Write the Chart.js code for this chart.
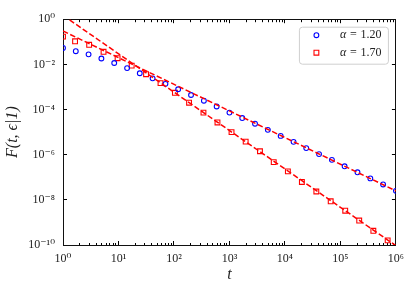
<!DOCTYPE html>
<html>
<head>
<meta charset="utf-8">
<script src="https://cdn.jsdelivr.net/npm/chart.js@4.4.1/dist/chart.umd.min.js"></script>
<style>
    html, body { margin: 0; padding: 0; background: #fff; }
</style>
</head>
<body>
<canvas id="survivalChart" width="415" height="288"></canvas>
<script>
//data
//alpha = 1.20 (blue circles)
var tBlue = [1, 1.70, 2.89, 4.92, 8.38, 14.3, 24.2, 41.2, 70.2, 119, 203, 346, 588, 1000,
    1700, 2890, 4920, 8380, 14300, 24200, 41200, 70200, 119000, 203000, 346000, 588000, 1000000];
var fBlue = [0.0532, 0.0382, 0.0277, 0.0182, 0.0115, 0.00682, 0.00403, 0.00240, 0.00137, 7.9e-4,
    4.4e-4, 2.46e-4, 1.37e-4, 7.3e-5, 4.2e-5, 2.36e-5, 1.26e-5, 6.8e-6, 3.7e-6, 1.96e-6,
    1.06e-6, 5.9e-7, 3.06e-7, 1.66e-7, 8.9e-8, 4.8e-8, 2.5e-8];

//alpha = 1.70 (red squares)
var tRed = [1, 1.65, 2.96, 5.38, 9.64, 17.3, 31.4, 57.2, 104, 187, 340, 608, 1090, 1960,
    3550, 6280, 11300, 20200, 36800, 66800, 122000, 218000, 392000, 710000];
var fRed = [0.169, 0.105, 0.0735, 0.0360, 0.0187, 0.00881, 0.00366, 0.00147, 5.5e-4, 2.0e-4,
    7.3e-5, 2.67e-5, 1.0e-5, 3.8e-6, 1.42e-6, 4.7e-7, 1.82e-7, 6.2e-8, 2.34e-8, 8.6e-9,
    3.3e-9, 1.21e-9, 4.25e-10, 1.6e-10];

//dashed power law guides (end points)
var tFit = [1, 1000000];
var fFitBlue = [0.30, 2.5e-8];
var fFitRed = [1.48, 9.3e-11];

var seriesLabels = ["α = 1.20", "α = 1.70"];

//ticks
var xMajor = [1, 10, 100, 1000, 10000, 100000, 1000000];
var xLabels = ["10⁰", "10¹", "10²", "10³", "10⁴", "10⁵", "10⁶"];
var yMajor = [1e-10, 1e-8, 1e-6, 1e-4, 1e-2, 1];
var yLabels = ["10⁻¹⁰", "10⁻⁸", "10⁻⁶", "10⁻⁴", "10⁻²", "10⁰"];

var serif = "'Liberation Serif', 'DejaVu Serif', serif";

function toPoints(xs, ys) {
    return xs.map((x, i) => ({x: x, y: ys[i]}));
}

//major ticks at decades, minor at 2..9
function buildXTicks(scale) {
    var ticks = [];
    xMajor.forEach((v, i) => {
        ticks.push({value: v, major: true});
        if (i < xMajor.length - 1) {
            for (var m = 2; m <= 9; m++) ticks.push({value: v * m, major: false});
        }
    });
    scale.ticks = ticks;
}

function buildYTicks(scale) {
    scale.ticks = yMajor.map(v => ({value: v, major: true}));
}

function xLabel(value) {
    var i = xMajor.findIndex(v => Math.abs(v - value) < v * 1e-6);
    return i >= 0 ? xLabels[i] : "";
}

function yLabel(value) {
    var i = yMajor.findIndex(v => Math.abs(v - value) < v * 1e-6);
    return i >= 0 ? yLabels[i] : "";
}

//inward ticks: full length for majors, short dash for minors
var bottomDash = ctx => (ctx.tick && ctx.tick.major) ? [] : [3, 10];
var topDash = ctx => (ctx.tick && ctx.tick.major) ? [] : [0, 1, 3, 10];

var tickGrid = function(dash) {
    return {
        drawOnChartArea: false,
        drawTicks: true,
        tickLength: -4,
        tickWidth: 1,
        tickColor: "#000",
        tickBorderDash: dash
    };
};

//legend box inside the plot, top right
var legendBox = {
    id: "legendBox",
    afterDraw(chart) {
        var ctx = chart.ctx;
        var area = chart.chartArea;
        var w = 89, h = 37;
        var x0 = area.right - 8 - w;
        var y0 = area.top + 7.5;

        ctx.save();
        ctx.beginPath();
        ctx.roundRect(x0 + 0.5, y0 + 0.5, w, h, 3);
        ctx.fillStyle = "rgba(255,255,255,0.85)";
        ctx.fill();
        ctx.strokeStyle = "#cfcfcf";
        ctx.lineWidth = 1;
        ctx.stroke();

        var rows = [y0 + 8.5, y0 + 26];
        [0, 1].forEach(i => {
            var ds = chart.data.datasets[i];
            var mx = x0 + 17.5;
            var my = rows[i];
            ctx.strokeStyle = ds.borderColor;
            ctx.lineWidth = 1.1;
            ctx.beginPath();
            if (ds.pointStyle === "circle") {
                ctx.arc(mx, my, 2.4, 0, Math.PI * 2);
            } else {
                ctx.rect(mx - 2.4, my - 2.4, 4.8, 4.8);
            }
            ctx.stroke();

            //label: italic alpha, the rest upright
            var label = ds.label;
            ctx.fillStyle = "#222";
            ctx.textBaseline = "middle";
            ctx.font = "italic 12px " + serif;
            ctx.fillText(label.charAt(0), x0 + 41, my);
            ctx.font = "12px " + serif;
            ctx.fillText("=", x0 + 51, my);
            ctx.fillText(label.split("= ")[1], x0 + 61.5, my);
        });
        ctx.restore();
    }
};

new Chart("survivalChart", {
    type: "scatter",
    data: {
        datasets: [{
            label: seriesLabels[0],
            data: toPoints(tBlue, fBlue),
            pointStyle: "circle",
            pointRadius: 2.4,
            pointBorderWidth: 1.1,
            borderColor: "#0000ff",
            backgroundColor: "rgba(0,0,0,0)",
            order: 2
        }, {
            label: seriesLabels[1],
            data: toPoints(tRed, fRed),
            pointStyle: "rect",
            pointRadius: 3.4,
            pointBorderWidth: 1.1,
            borderColor: "#ff0000",
            backgroundColor: "rgba(0,0,0,0)",
            order: 2
        }, {
            label: "fit 1.20",
            data: toPoints(tFit, fFitBlue),
            showLine: true,
            pointRadius: 0,
            borderColor: "#ff0000",
            borderWidth: 1.5,
            borderDash: [5.5, 2.5],
            order: 1
        }, {
            label: "fit 1.70",
            data: toPoints(tFit, fFitRed),
            showLine: true,
            pointRadius: 0,
            borderColor: "#ff0000",
            borderWidth: 1.5,
            borderDash: [5.5, 2.5],
            order: 1
        }]
    },
    options: {
        responsive: false,
        devicePixelRatio: 1,
        animation: false,
        events: [],
        layout: {
            padding: {left: 0, top: 9, right: 13, bottom: 0}
        },
        plugins: {
            legend: {display: false},
            tooltip: {enabled: false}
        },
        scales: {
            x: {
                type: "logarithmic",
                position: "bottom",
                min: 1,
                max: 1000000,
                afterBuildTicks: buildXTicks,
                afterFit: s => { s.height = 43; },
                grid: tickGrid(bottomDash),
                border: {color: "#111", width: 1},
                ticks: {
                    autoSkip: false,
                    maxRotation: 0,
                    padding: 11,
                    color: "#222",
                    font: {family: serif, size: 12},
                    callback: value => xLabel(value)
                },
                title: {
                    display: true,
                    text: "t",
                    color: "#222",
                    font: {family: serif, size: 16, style: "italic"},
                    padding: {top: 0, bottom: 4}
                }
            },
            x2: {
                type: "logarithmic",
                position: "top",
                min: 1,
                max: 1000000,
                afterBuildTicks: buildXTicks,
                afterFit: s => { s.height = 0; },
                grid: tickGrid(topDash),
                border: {color: "#111", width: 1},
                ticks: {display: false}
            },
            y: {
                type: "logarithmic",
                position: "left",
                min: 1e-10,
                max: 1,
                afterBuildTicks: buildYTicks,
                afterFit: s => { s.width = 63; },
                grid: tickGrid([]),
                border: {color: "#111", width: 1},
                ticks: {
                    autoSkip: false,
                    padding: 12,
                    color: "#222",
                    font: {family: serif, size: 12},
                    callback: value => yLabel(value)
                },
                title: {
                    display: true,
                    text: "F(t, ϵ|1)",
                    color: "#222",
                    font: {family: serif, size: 16, style: "italic"},
                    padding: {top: 3, bottom: 0}
                }
            },
            y2: {
                type: "logarithmic",
                position: "right",
                min: 1e-10,
                max: 1,
                afterBuildTicks: buildYTicks,
                afterFit: s => { s.width = 0; },
                grid: tickGrid([]),
                border: {color: "#111", width: 1},
                ticks: {display: false}
            }
        }
    },
    plugins: [legendBox]
});
</script>
</body>
</html>
